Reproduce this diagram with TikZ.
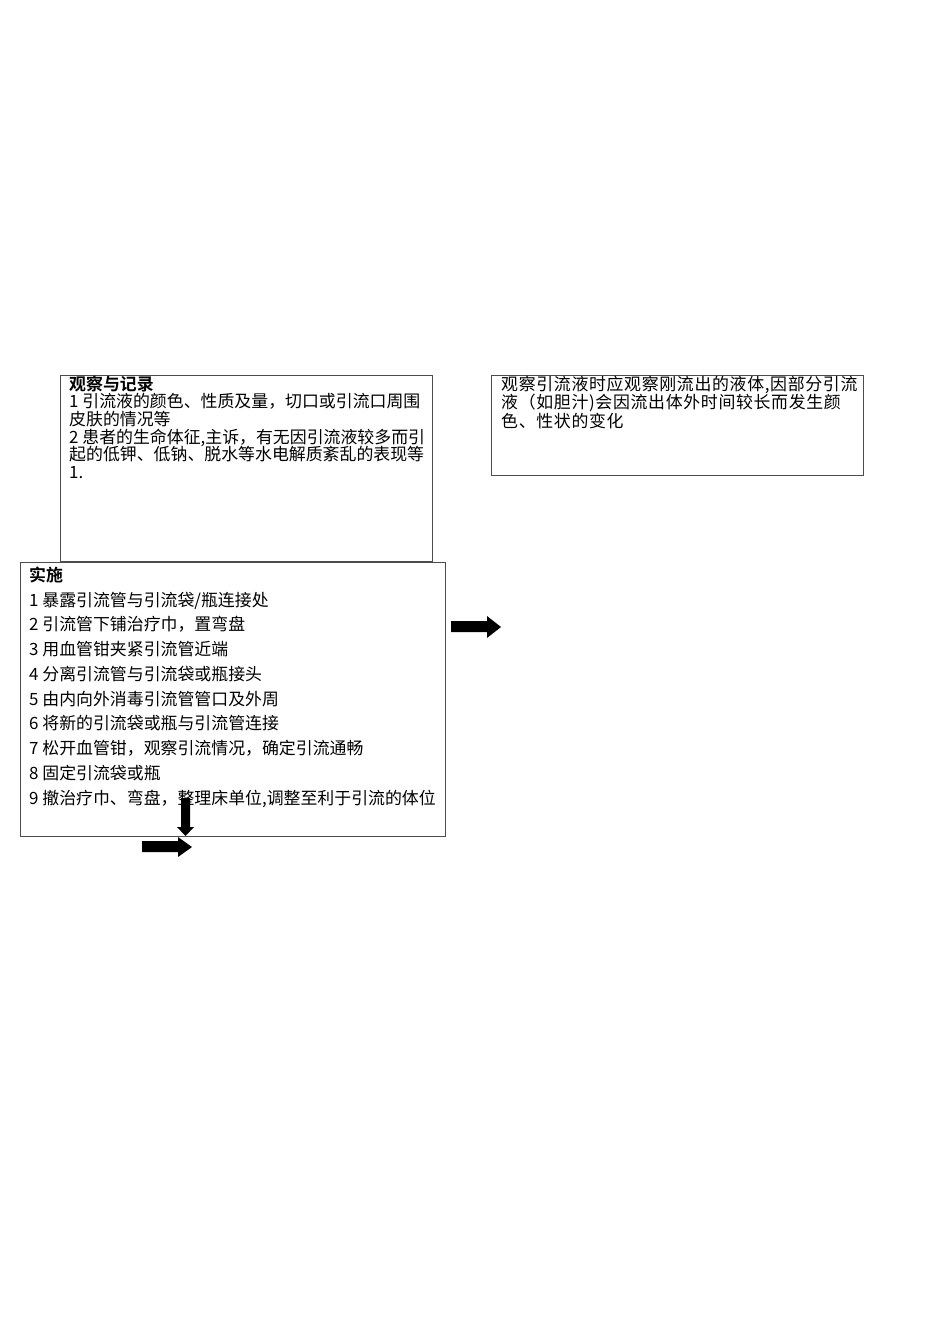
\documentclass[tikz,border=0pt]{standalone}
\usepackage{fontspec}
\setmainfont{Noto Sans CJK SC}[BoldFont={Noto Sans CJK SC Bold}]
\usetikzlibrary{shapes.arrows}
\begin{document}
\begin{tikzpicture}[x=1pt,y=-1pt,
  box/.style={draw=black!70,line width=0.9pt,anchor=north west,inner sep=0pt},
  txt/.style={anchor=north west,inner sep=0pt,align=left},
  blockarrow/.style={fill=black,draw=none}]
\useasboundingbox[fill=white] (0,0) rectangle (950,1344);
% boxes
\node[box,minimum width=372pt,minimum height=186pt] (obs) at (60,375) {};
\node[box,minimum width=425pt,minimum height=274pt] (impl) at (20,562) {};
\node[box,minimum width=372pt,minimum height=100pt] (note) at (491,375) {};
% texts
\node[txt,font=\fontsize{16.9}{17.6}\selectfont] (obstxt) at (69,375.5)
 {\textbf{观察与记录}\\
  1 引流液的颜色、性质及量，切口或引流口周围\\
  皮肤的情况等\\
  2 患者的生命体征,主诉，有无因引流液较多而引\\
  起的低钾、低钠、脱水等水电解质紊乱的表现等\\
  1.};
\node[txt,font=\fontsize{16.9}{24.75}\selectfont] (impltxt) at (29,566.5)
 {\textbf{实施}\\
  1 暴露引流管与引流袋/瓶连接处\\
  2 引流管下铺治疗巾，置弯盘\\
  3 用血管钳夹紧引流管近端\\
  4 分离引流管与引流袋或瓶接头\\
  5 由内向外消毒引流管管口及外周\\
  6 将新的引流袋或瓶与引流管连接\\
  7 松开血管钳，观察引流情况，确定引流通畅\\
  8 固定引流袋或瓶\\
  9 撤治疗巾、弯盘，整理床单位,调整至利于引流的体位};
\node[txt,font=\fontsize{16.9}{18.3}\selectfont\addfontfeature{LetterSpace=4}] (notetxt) at (501,376)
 {观察引流液时应观察刚流出的液体,因部分引流\\
  液（如胆汁)会因流出体外时间较长而发生颜\\
  色、性状的变化};
% block arrows
\fill[blockarrow] (451,621) -- (487,621) -- (487,616) -- (501,627) -- (487,638) -- (487,632) -- (451,632) -- cycle;
\fill[blockarrow] (181,798) -- (190,798) -- (190,827) -- (194,827) -- (185.5,836) -- (177,827) -- (181,827) -- cycle;
\fill[blockarrow] (142,841) -- (178,841) -- (178,837) -- (192,847) -- (178,857) -- (178,852) -- (142,852) -- cycle;
\end{tikzpicture}
\end{document}
